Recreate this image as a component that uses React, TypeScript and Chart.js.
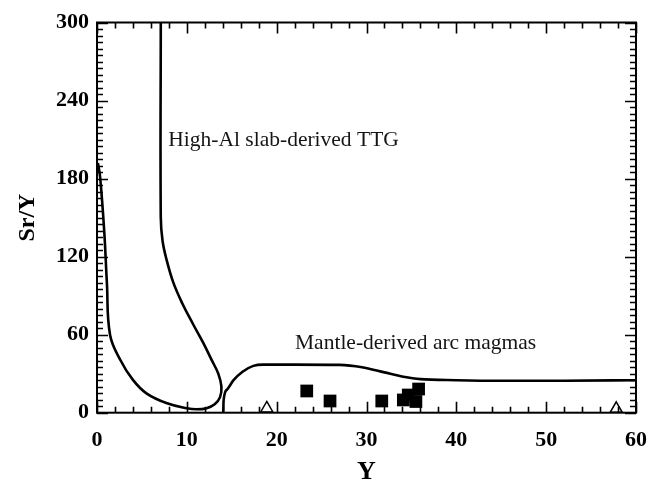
import React, { useEffect, useRef } from "react";
import { Chart, registerables } from "chart.js";

Chart.register(...registerables);

const FONT = '"Liberation Serif", "Times New Roman", Times, serif';

// Axis ranges / ticks
const xRange = [0, 60];
const yRange = [0, 300];
const xMajorStep = 10;
const yMajorStep = 60;
const xMinorStep = 2;
const yMinorStep = 5;

// Field boundary: High-Al slab-derived TTG
const ttgX = [7.1, 7.1, 7.3, 7.75, 8.5, 9.5, 10.7, 11.8, 12.8, 13.5, 13.85, 13.7, 13.1, 12.2, 11.1, 10.0, 7.8, 5.5, 4.0, 2.6, 1.45, 1.1, 0.8, 0.35, 0.1];
const ttgY = [300, 150, 132, 117.5, 100, 84, 68, 54, 40, 30, 20, 12, 6.5, 3.5, 2.6, 3.4, 7.2, 14.9, 25.2, 40.5, 60, 100, 140, 181, 192];

// Field boundary: Mantle-derived arc magmas
const arcX = [14.05, 14.1, 14.5, 15.2, 16.2, 17.4, 18.5, 22, 27, 29.5, 32, 34.1, 36, 40, 45, 52, 60];
const arcY = [0, 10, 18, 25, 31.5, 36, 37, 37, 36.8, 35, 31, 27.7, 25.8, 25, 24.6, 24.6, 25];

// Samples (filled squares)
const squareX = [23.35, 25.94, 31.7, 34.1, 34.65, 35.5, 35.8];
const squareY = [16.7, 9.0, 9.0, 9.8, 13.6, 8.6, 18.2];

// Samples (open triangles)
const triangleX = [18.9, 57.8];
const triangleY = [3.3, 3.0];

// Field labels
const labelTexts = ["High-Al slab-derived TTG", "Mantle-derived arc magmas"];
const labelX = [7.94, 22.04];
const labelY = [205, 48.8];

const zip = (xs: number[], ys: number[]) => xs.map((v, i) => ({ x: v, y: ys[i] }));

const framePlugin = {
  id: "frameTicks",
  afterDatasetsDraw(chart: any) {
    const { ctx, chartArea: a, scales } = chart;
    const x = scales.x;
    const y = scales.y;
    ctx.save();
    ctx.strokeStyle = "#000";
    ctx.lineWidth = 2;
    ctx.strokeRect(a.left, a.top, a.right - a.left, a.bottom - a.top);
    ctx.lineWidth = 1.6;
    ctx.beginPath();
    for (let v = xRange[0]; v <= xRange[1] + 1e-9; v += xMinorStep) {
      const px = Math.round(x.getPixelForValue(v)) + 0.5;
      const len = Math.abs(v % xMajorStep) < 1e-9 ? 11 : 6;
      ctx.moveTo(px, a.bottom);
      ctx.lineTo(px, a.bottom - len);
      ctx.moveTo(px, a.top);
      ctx.lineTo(px, a.top + len);
    }
    for (let v = yRange[0]; v <= yRange[1] + 1e-9; v += yMinorStep) {
      const py = Math.round(y.getPixelForValue(v)) + 0.5;
      const len = Math.abs(v % yMajorStep) < 1e-9 ? 11 : 6;
      ctx.moveTo(a.left, py);
      ctx.lineTo(a.left + len, py);
      ctx.moveTo(a.right, py);
      ctx.lineTo(a.right - len, py);
    }
    ctx.stroke();
    ctx.restore();
  },
};

const labelPlugin = {
  id: "fieldLabels",
  afterDatasetsDraw(chart: any) {
    const { ctx, scales } = chart;
    ctx.save();
    ctx.fillStyle = "#151515";
    ctx.font = `21.5px ${FONT}`;
    ctx.textAlign = "left";
    ctx.textBaseline = "alphabetic";
    labelTexts.forEach((t, i) => {
      ctx.fillText(t, scales.x.getPixelForValue(labelX[i]), scales.y.getPixelForValue(labelY[i]));
    });
    ctx.restore();
  },
};

export default function App() {
  const ref = useRef<HTMLCanvasElement | null>(null);
  useEffect(() => {
    if (!ref.current) return;
    const chart = new Chart(ref.current, {
      type: "scatter",
      data: {
        datasets: [
          {
            label: "TTG",
            data: zip(ttgX, ttgY),
            showLine: true,
            borderColor: "#000",
            borderWidth: 2.6,
            pointRadius: 0,
            tension: 0.4,
            fill: false,
            clip: false as any,
          },
          {
            label: "Arc",
            data: zip(arcX, arcY),
            showLine: true,
            borderColor: "#000",
            borderWidth: 2.6,
            pointRadius: 0,
            cubicInterpolationMode: "monotone",
            fill: false,
            clip: false as any,
          },
          {
            label: "Squares",
            data: zip(squareX, squareY),
            pointStyle: "rect",
            pointRadius: 9,
            backgroundColor: "#000",
            borderColor: "#000",
            borderWidth: 0,
            clip: false as any,
          },
          {
            label: "Triangles",
            data: zip(triangleX, triangleY),
            pointStyle: "triangle",
            pointRadius: 7,
            backgroundColor: "rgba(255,255,255,0)",
            borderColor: "#000",
            borderWidth: 1.5,
            clip: false as any,
          },
        ],
      },
      options: {
        animation: false,
        responsive: true,
        maintainAspectRatio: false,
        layout: { padding: { left: 0, top: 22.5, right: 13, bottom: 0 } },
        plugins: {
          legend: { display: false },
          tooltip: { enabled: false },
        },
        scales: {
          x: {
            type: "linear",
            min: xRange[0],
            max: xRange[1],
            grid: { display: false, drawTicks: false },
            border: { display: false },
            ticks: {
              stepSize: xMajorStep,
              padding: 14,
              color: "#000",
              font: { family: FONT, size: 22, weight: "bold" },
              maxRotation: 0,
              autoSkip: false,
            },
            title: {
              display: true,
              text: "Y",
              color: "#000",
              font: { family: FONT, size: 26, weight: "bold", lineHeight: 0.8 },
              padding: { top: 0, bottom: 0 },
            },
            afterFit: (s: any) => {
              s.height = 70.3;
              s.paddingLeft = 0;
              s.paddingRight = 0;
            },
          },
          y: {
            type: "linear",
            min: yRange[0],
            max: yRange[1],
            grid: { display: false, drawTicks: false },
            border: { display: false },
            ticks: {
              stepSize: yMajorStep,
              padding: 8,
              color: "#000",
              font: { family: FONT, size: 22, weight: "bold" },
              autoSkip: false,
            },
            title: {
              display: true,
              text: "Sr/Y",
              color: "#000",
              font: { family: FONT, size: 24, weight: "bold", lineHeight: 1.2 },
              padding: { top: 13, bottom: 0 },
            },
            afterFit: (s: any) => {
              s.width = 97;
              s.paddingTop = 0;
              s.paddingBottom = 0;
            },
          },
        },
      },
      plugins: [framePlugin, labelPlugin],
    });
    return () => chart.destroy();
  }, []);

  return (
    <div style={{ position: "fixed", left: 0, top: 0, width: 649, height: 483, background: "#fff" }}>
      <canvas ref={ref} />
    </div>
  );
}
